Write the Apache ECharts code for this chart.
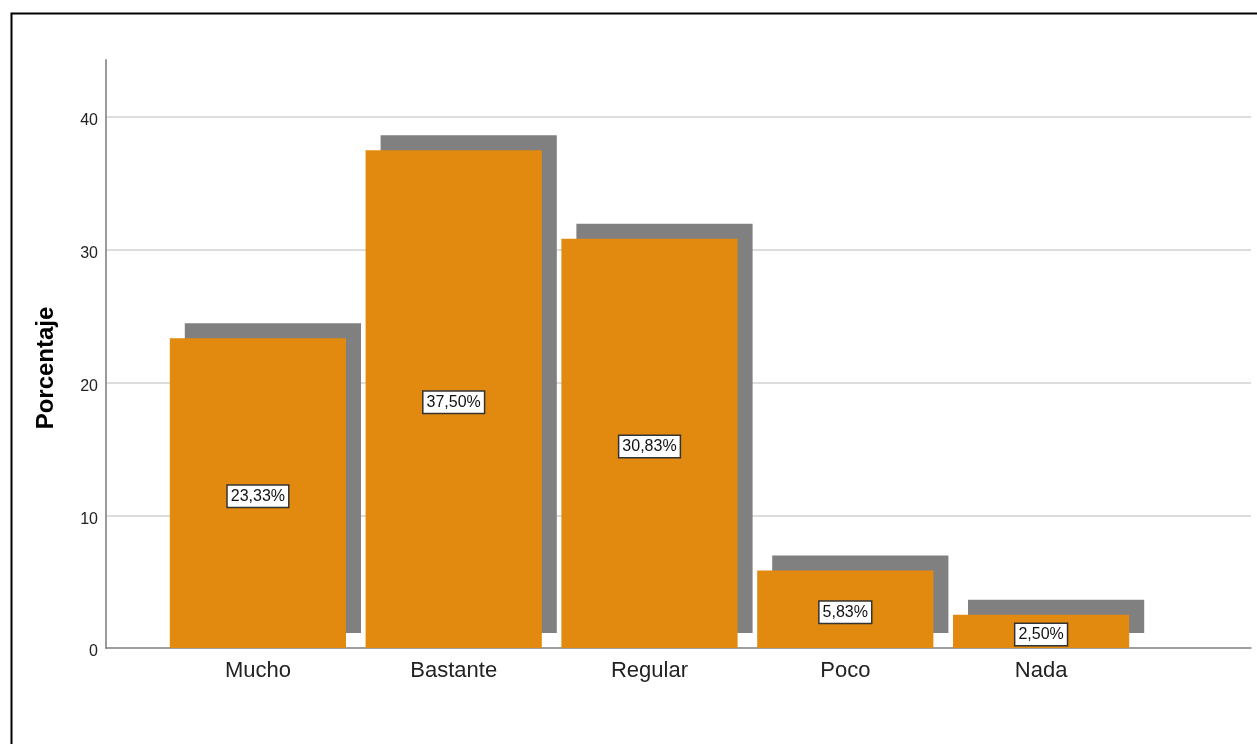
<!DOCTYPE html>
<html>
<head>
<meta charset="utf-8">
<script src="https://cdn.jsdelivr.net/npm/echarts@6/dist/echarts.min.js"></script>
<style>
html,body{margin:0;padding:0;background:#fff;}
#chart{width:1257px;height:744px;}
</style>
</head>
<body>
<div id="chart"></div>
<script>
const categories = ['Mucho', 'Bastante', 'Regular', 'Poco', 'Nada'];
const porcentajes = [23.33, 37.50, 30.83, 5.83, 2.50];
const yTicks = [0, 10, 20, 30, 40];

const chart = echarts.init(document.getElementById('chart'), null, {renderer: 'canvas'});
const FONT = '"Liberation Sans", Arial, sans-serif';
const yMax = 44.3;

const option = {
  backgroundColor: '#ffffff',
  animation: false,
  graphic: [{
    type: 'rect', left: 9, top: 11, z: 100, silent: true,
    shape: {width: 1400, height: 900},
    style: {fill: 'none', stroke: '#000', lineWidth: 2}
  }],
  grid: [
    {left: 160, right: 118, top: 60, bottom: 96},
    {left: 106, right: 6, top: 60, bottom: 96}
  ],
  xAxis: [
    {
      type: 'category', gridIndex: 0, data: categories,
      axisLine: {show: false}, axisTick: {show: false},
      axisLabel: {fontFamily: FONT, fontSize: 22, color: '#222', margin: 12}
    },
    {
      type: 'value', gridIndex: 1, min: 0, max: 1,
      axisLine: {show: true, lineStyle: {color: '#7f7f7f', width: 1.5}},
      axisTick: {show: false}, axisLabel: {show: false}, splitLine: {show: false}
    }
  ],
  yAxis: [
    {
      type: 'value', gridIndex: 0, min: 0, max: yMax, interval: 10,
      show: false, splitLine: {show: false}
    },
    {
      type: 'value', gridIndex: 1, min: 0, max: yMax, interval: 10,
      name: 'Porcentaje', nameLocation: 'middle', nameRotate: 90, nameGap: 48,
      nameTextStyle: {fontFamily: FONT, fontSize: 24, fontWeight: 'bold', color: '#000', padding: [0, 28, 0, 0]},
      axisLine: {show: true, lineStyle: {color: '#9a9a9a', width: 2}},
      axisTick: {show: false},
      axisLabel: {
        fontFamily: FONT, fontSize: 16, color: '#222', margin: 8, showMaxLabel: false,
        verticalAlign: 'top', lineHeight: 8,
        formatter: v => yTicks.includes(v) ? String(v) : ''
      },
      splitLine: {show: true, showMaxLine: false, showMinLine: false, lineStyle: {color: '#d2d2d2', width: 1.5}}
    }
  ],
  series: [{
    type: 'bar', xAxisIndex: 0, yAxisIndex: 0,
    data: porcentajes,
    barWidth: '90%',
    itemStyle: {
      color: '#E18A0F',
      shadowColor: '#808080', shadowBlur: 0, shadowOffsetX: 15, shadowOffsetY: -15
    },
    label: {
      show: true, position: 'inside', offset: [0, 3],
      fontFamily: FONT, fontSize: 16, color: '#111',
      backgroundColor: '#fff', borderColor: '#333', borderWidth: 1.5,
      padding: [3, 3, 2, 3],
      formatter: p => p.value.toFixed(2).replace('.', ',') + '%'
    }
  }]
};
chart.setOption(option);
</script>
</body>
</html>
